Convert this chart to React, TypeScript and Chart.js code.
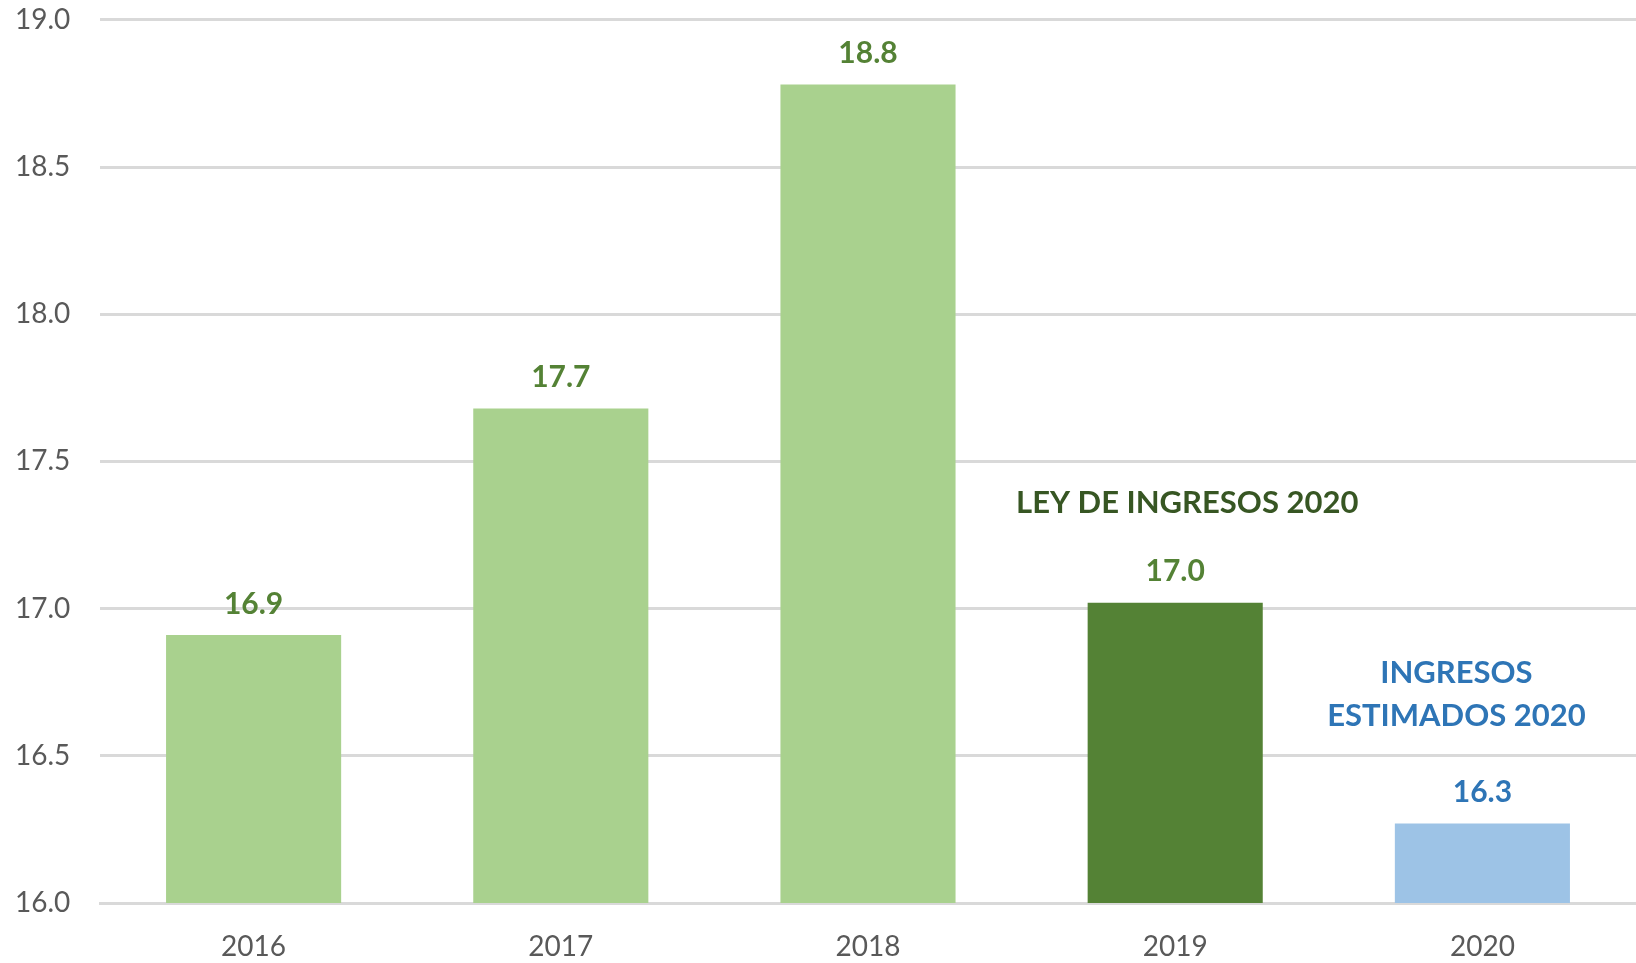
import { useEffect, useRef } from "react";
import { Chart, registerables } from "chart.js";

Chart.register(...registerables);

const categories = ["2016", "2017", "2018", "2019", "2020"];
const values = [16.91, 17.68, 18.78, 17.02, 16.27];
const valueLabels = ["16.9", "17.7", "18.8", "17.0", "16.3"];
const barColors = ["#a9d18e", "#a9d18e", "#a9d18e", "#548235", "#9dc3e6"];
const labelColors = ["#548235", "#548235", "#548235", "#548235", "#2e75b6"];

const yMin = 16;
const yMax = 19;
const yStep = 0.5;

// annotation texts, anchored to a category and a value level
const noteTexts = ["LEY DE INGRESOS 2020", "INGRESOS", "ESTIMADOS 2020"];
const noteCategory = [3, 4, 4];
const noteLevel = [17.36, 16.78, 16.635];
const noteColors = ["#375623", "#2e75b6", "#2e75b6"];
const noteShift = [12, -26, -26];

const FONT = "Lato, 'Open Sans', sans-serif";

export default function App() {
  const ref = useRef<HTMLCanvasElement | null>(null);

  useEffect(() => {
    if (!ref.current) return;
    const labelsPlugin = {
      id: "labelsPlugin",
      afterDatasetsDraw(chart: any) {
        const ctx = chart.ctx;
        const meta = chart.getDatasetMeta(0);
        ctx.save();
        ctx.font = `bold 30px ${FONT}`;
        ctx.textAlign = "center";
        ctx.textBaseline = "middle";
        meta.data.forEach((bar: any, i: number) => {
          ctx.fillStyle = labelColors[i];
          ctx.fillText(valueLabels[i], bar.x, bar.y - 31);
        });
        const xs = chart.scales.x;
        const ys = chart.scales.y;
        ctx.font = `bold 31px ${FONT}`;
        noteTexts.forEach((t, i) => {
          ctx.fillStyle = noteColors[i];
          ctx.fillText(
            t,
            xs.getPixelForValue(noteCategory[i]) + noteShift[i],
            ys.getPixelForValue(noteLevel[i])
          );
        });
        ctx.restore();
      },
    };

    const chart = new Chart(ref.current, {
      type: "bar",
      data: {
        labels: categories,
        datasets: [
          {
            data: values,
            backgroundColor: barColors,
            borderWidth: 0,
            barPercentage: 0.57,
            categoryPercentage: 1,
          },
        ],
      },
      options: {
        animation: false,
        responsive: true,
        maintainAspectRatio: false,
        layout: { padding: { top: 0, right: 0, left: 15, bottom: 0 } },
        plugins: {
          legend: { display: false },
          tooltip: { enabled: false },
        },
        scales: {
          x: {
            z: 1,
            grid: { display: false, drawTicks: false },
            border: { display: true, color: "#d9d9d9", width: 3 },
            ticks: {
              color: "#595959",
              font: { family: FONT, size: 28 },
              padding: 27,
            },
            afterFit: (s: any) => {
              s.height = 60;
            },
          },
          y: {
            min: yMin,
            max: yMax,
            grid: { color: "#d9d9d9", lineWidth: 3, drawTicks: false },
            border: { display: false },
            ticks: {
              stepSize: yStep,
              color: "#595959",
              font: { family: FONT, size: 28 },
              padding: 3,
              crossAlign: "far",
              callback: (v: any) => Number(v).toFixed(1),
            },
            afterFit: (s: any) => {
              s.width = 85;
            },
          },
        },
      },
      plugins: [labelsPlugin],
    });
    return () => chart.destroy();
  }, []);

  return (
    <div style={{ position: "absolute", left: 0, top: 0, width: 1636, height: 963 }}>
      <canvas ref={ref} />
    </div>
  );
}
